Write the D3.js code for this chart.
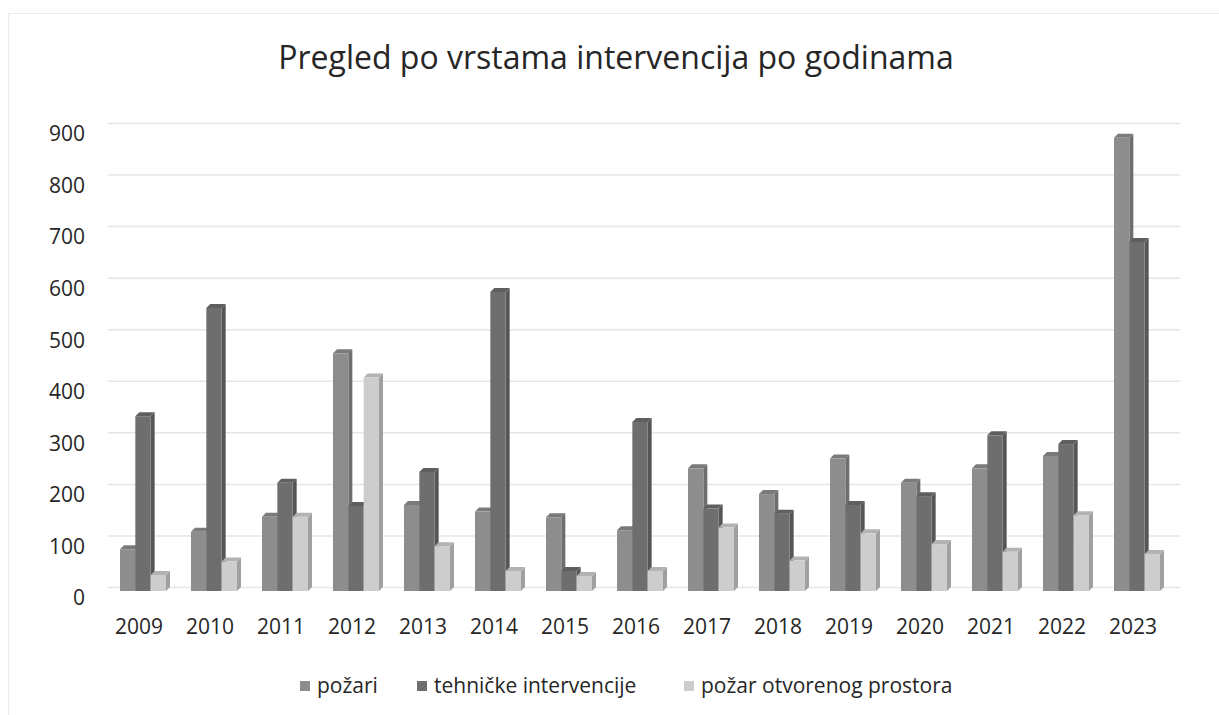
<!DOCTYPE html>
<html lang="hr">
<head>
<meta charset="UTF-8">
<title>Pregled po vrstama intervencija po godinama</title>
<script src="https://cdnjs.cloudflare.com/ajax/libs/d3/7.8.5/d3.min.js"></script>
<style>
  body { margin: 0; background: #fff; font-family: 'Open Sans', sans-serif; }
  svg { display: block; }
  .tick-label { fill: #262626; font-size: 21px; }
  .legend-label { fill: #262626; font-size: 21px; }
</style>
</head>
<body>
<svg id="chart" width="1219" height="715"></svg>
<script>
// podaci
const years = ["2009","2010","2011","2012","2013","2014","2015","2016","2017","2018","2019","2020","2021","2022","2023"];
const pozari = [81, 115, 144, 461, 167, 154, 143, 118, 238, 188, 257, 210, 238, 262, 879];
const tehnicke = [339, 549, 210, 165, 231, 580, 39, 328, 160, 150, 167, 184, 302, 285, 677];
const otvoreni = [31, 57, 144, 414, 87, 39, 29, 39, 123, 59, 112, 91, 76, 147, 72];
const seriesNames = ["požari", "tehničke intervencije", "požar otvorenog prostora"];
const yTicks = [0, 100, 200, 300, 400, 500, 600, 700, 800, 900];

const series = [pozari, tehnicke, otvoreni];
const colors = ["#8d8d8d", "#6e6e6e", "#cdcdcd"];

const svg = d3.select("#chart");
const depth = 4;

// okvir grafikona
svg.append("rect")
  .attr("x", 8.5).attr("y", 13.5)
  .attr("width", 1230).attr("height", 720)
  .attr("fill", "none").attr("stroke", "#ececec");

const x = d3.scaleBand().domain(years).range([103.5, 1168.5]);
const y = d3.scaleLinear().domain([0, 900]).range([591, 127]);
const xs = d3.scaleBand().domain([0, 1, 2]).range([0, 46]);

// mreža (stražnji zid)
svg.append("g").selectAll("line")
  .data(yTicks)
  .enter().append("line")
  .attr("x1", 104 + depth).attr("x2", 1180)
  .attr("y1", d => y(d) - depth + 0.5)
  .attr("y2", d => y(d) - depth + 0.5)
  .attr("stroke", "#e6e6e6")
  .attr("stroke-width", 1.5);

// oznake osi y
svg.append("g").selectAll("text")
  .data(yTicks)
  .enter().append("text")
  .attr("class", "tick-label")
  .attr("x", 85)
  .attr("y", d => y(d) + 7)
  .attr("dy", "0.35em")
  .attr("text-anchor", "end")
  .text(d => d);

// oznake osi x
svg.append("g").selectAll("text")
  .data(years)
  .enter().append("text")
  .attr("class", "tick-label")
  .attr("x", d => x(d) + x.bandwidth() / 2)
  .attr("y", 627)
  .attr("dy", "0.35em")
  .attr("text-anchor", "middle")
  .text(d => d);

// 3D stupci
const groups = svg.append("g").selectAll("g")
  .data(years)
  .enter().append("g")
  .attr("transform", d => `translate(${x(d) + x.bandwidth() / 2 - 19},0)`);

groups.each(function(year, i) {
  const g = d3.select(this);
  series.forEach((s, k) => {
    const v = s[i];
    const x0 = xs(k);
    const w = xs.bandwidth();
    const top = y(v);
    const base = y(0);
    const c = d3.color(colors[k]);
    // bočna strana
    g.append("path")
      .attr("d", `M${x0 + w},${top} l${depth},${-depth} L${x0 + w + depth},${base - depth} L${x0 + w},${base} Z`)
      .attr("fill", c.darker(0.7));
    // gornja strana
    g.append("path")
      .attr("d", `M${x0},${top} l${depth},${-depth} l${w},0 l${-depth},${depth} Z`)
      .attr("fill", c.darker(0.4));
    // prednja strana
    g.append("rect")
      .attr("x", x0).attr("y", top)
      .attr("width", w).attr("height", base - top)
      .attr("fill", colors[k]);
  });
});

// naslov
svg.append("text")
  .attr("x", 616).attr("y", 69)
  .attr("text-anchor", "middle")
  .attr("fill", "#262626")
  .style("font-size", "32px")
  .text("Pregled po vrstama intervencija po godinama");

// legenda
const legendX = [300, 417, 684];
const legend = svg.append("g").selectAll("g")
  .data(seriesNames)
  .enter().append("g")
  .attr("transform", (d, i) => `translate(${legendX[i]},686)`);

legend.append("rect")
  .attr("x", 0).attr("y", -5)
  .attr("width", 10).attr("height", 10)
  .attr("fill", (d, i) => colors[i]);

legend.append("text")
  .attr("class", "legend-label")
  .attr("x", 17).attr("y", 0)
  .attr("dy", "0.35em")
  .text(d => d);
</script>
</body>
</html>
